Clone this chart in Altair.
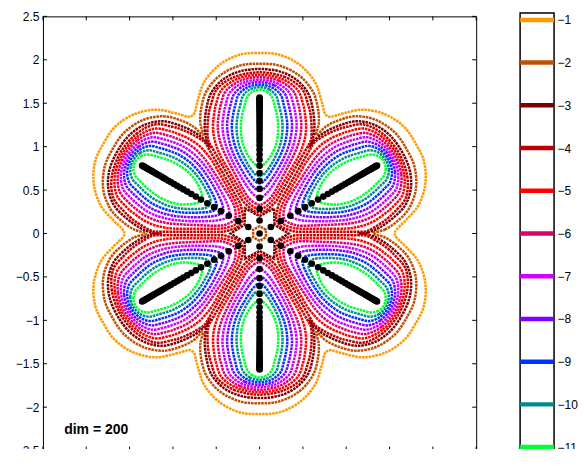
import math
import altair as alt
import pandas as pd

# ---------------- values ----------------
levels = [-1, -2, -3, -4, -5, -6, -7, -8, -9, -10, -11]
level_colors = ["#ff9900", "#c05000", "#800000", "#c00000", "#ff0000",
                "#d9006c", "#cc00ff", "#7f00ff", "#0033ff", "#008c8c", "#00ff33"]

axis_ticks = [-2.5, -2, -1.5, -1, -0.5, 0, 0.5, 1, 1.5, 2, 2.5]

# directions of the six eigenvalue rays / petals (degrees)
petal_axes = [30, 90, 150, 210, 270, 330]

# outer contours (closed round all petals): angle off a petal axis (deg) and radius
c1_phi = [0, 6.4, 13.3, 19.9, 24.7, 28.3, 30]
c1_r = [2.078, 2.071, 1.998, 1.864, 1.699, 1.58, 1.564]
c2_phi = [0, 6.8, 14.2, 20.5, 24.9, 28.2, 30]
c2_r = [1.955, 1.946, 1.875, 1.749, 1.596, 1.447, 1.31]
c3_phi = [0, 7, 13.4, 19, 23.3, 27.1, 29.5, 30]
c3_r = [1.894, 1.881, 1.822, 1.713, 1.555, 1.39, 1.247, 1.14]

# small contours round the origin: star (level -3) and hexagon (level -2)
star_phi = [0, 30]
star_r = [0.20, 0.335]
hex_phi = [0]
hex_r = [0.085]

# petal contours: half of the upright petal, from its tip to its inner end (x >= 0)
p4_x = [0, 0.28, 0.485, 0.56, 0.588, 0.6, 0.595, 0.548, 0.483, 0.433, 0.333, 0.233, 0.19, 0.14, 0.07, 0]
p4_y = [1.856, 1.806, 1.671, 1.486, 1.37, 1.237, 1.085, 0.99, 0.876, 0.789, 0.616, 0.443, 0.37, 0.32, 0.262, 0.245]
p5_x = [0, 0.2515, 0.436, 0.503, 0.525, 0.537, 0.528, 0.495, 0.45, 0.352, 0.252, 0.182, 0.12, 0.06, 0]
p5_y = [1.828, 1.782, 1.657, 1.486, 1.37, 1.25, 1.12, 1.0, 0.892, 0.72, 0.547, 0.426, 0.35, 0.30, 0.285]
p6_x = [0, 0.2235, 0.387, 0.447, 0.47, 0.482, 0.47, 0.432, 0.378, 0.318, 0.257, 0.196, 0.135, 0.07, 0.02, 0]
p6_y = [1.80, 1.758, 1.643, 1.486, 1.37, 1.25, 1.12, 0.99, 0.87, 0.75, 0.635, 0.52, 0.42, 0.36, 0.333, 0.33]
p7_x = [0, 0.195, 0.338, 0.39, 0.415, 0.428, 0.415, 0.38, 0.33, 0.27, 0.2, 0.13, 0.06, 0.015, 0]
p7_y = [1.771, 1.733, 1.6285, 1.486, 1.37, 1.25, 1.12, 0.99, 0.87, 0.75, 0.63, 0.52, 0.44, 0.413, 0.41]
p8_x = [0, 0.167, 0.289, 0.334, 0.36, 0.375, 0.362, 0.33, 0.28, 0.22, 0.15, 0.08, 0.025, 0]
p8_y = [1.7425, 1.708, 1.614, 1.486, 1.37, 1.25, 1.12, 0.99, 0.87, 0.755, 0.64, 0.545, 0.497, 0.49]
p9_x = [0, 0.139, 0.241, 0.278, 0.305, 0.32, 0.31, 0.28, 0.23, 0.165, 0.095, 0.035, 0]
p9_y = [1.714, 1.683, 1.60, 1.486, 1.37, 1.25, 1.12, 1.0, 0.88, 0.765, 0.655, 0.59, 0.58]
p10_x = [0, 0.11, 0.191, 0.221, 0.25, 0.265, 0.258, 0.232, 0.185, 0.125, 0.06, 0.015, 0]
p10_y = [1.6855, 1.659, 1.586, 1.486, 1.37, 1.25, 1.12, 1.0, 0.89, 0.78, 0.69, 0.667, 0.665]
p11_x = [0, 0.083, 0.143, 0.17, 0.20, 0.215, 0.21, 0.185, 0.14, 0.08, 0.025, 0]
p11_y = [1.657, 1.634, 1.571, 1.486, 1.37, 1.25, 1.12, 1.01, 0.91, 0.825, 0.775, 0.77]

# eigenvalues: distance from the origin along each ray (plus one at the origin)
eig_r = [0.15, 0.285, 0.41, 0.515, 0.606, 0.696, 0.78, 0.85, 0.91, 0.965, 1.015,
         1.06, 1.10, 1.14, 1.18, 1.215, 1.25, 1.28, 1.31, 1.34, 1.365, 1.39, 1.415,
         1.435, 1.455, 1.475, 1.49, 1.505, 1.52, 1.535, 1.545, 1.555, 1.565]

dim_label = "dim = 200"

# ---------------- build tables ----------------
def polar(theta_deg, r):
    t = math.radians(theta_deg)
    return r * math.cos(t), r * math.sin(t)


rows = []


def add_curve(cid, level, pts):
    for i, (x, y) in enumerate(pts):
        rows.append({"cid": cid, "level": level, "order": i, "x": x, "y": y})


def flower(phi, r):
    pts = []
    for a in petal_axes:
        seq = [(a - p, rr) for p, rr in zip(reversed(phi), reversed(r))]
        seq += [(a + p, rr) for p, rr in zip(phi[1:-1], r[1:-1])]
        pts += [polar(t, rr) for t, rr in seq]
    return pts


def petal(px, py, a):
    xs_ = list(px) + [-v for v in reversed(px[1:-1])]
    ys_ = list(py) + list(reversed(py[1:-1]))
    b = math.radians(a - 90)
    return [(x * math.cos(b) - y * math.sin(b), x * math.sin(b) + y * math.cos(b))
            for x, y in zip(xs_, ys_)]


add_curve("o1", -1, flower(c1_phi, c1_r))
add_curve("o2", -2, flower(c2_phi, c2_r))
add_curve("o3", -3, flower(c3_phi, c3_r))

petal_sets = [(-4, p4_x, p4_y), (-5, p5_x, p5_y), (-6, p6_x, p6_y), (-7, p7_x, p7_y),
              (-8, p8_x, p8_y), (-9, p9_x, p9_y), (-10, p10_x, p10_y), (-11, p11_x, p11_y)]
for lev, px, py in petal_sets:
    for a in petal_axes:
        add_curve(f"p{lev}_{a}", lev, petal(px, py, a))

contours = pd.DataFrame(rows)

srows = []
for cid, lev, ph, rr in [("star", -3, star_phi, star_r), ("hex", -2, hex_phi, hex_r)]:
    i = 0
    for a in petal_axes:
        for p, r in zip(ph, rr):
            x, y = polar(a + p, r)
            srows.append({"cid": cid, "level": lev, "order": i, "x": x, "y": y})
            i += 1
center = pd.DataFrame(srows)

erows = [{"x": 0.0, "y": 0.0}]
for a in petal_axes:
    for r in eig_r:
        x, y = polar(a, r)
        erows.append({"x": x, "y": y})
eigs = pd.DataFrame(erows)

# ---------------- chart ----------------
W, H = 434, 435
FONT = "Liberation Sans"
xs = alt.Scale(domain=[-2.5, 2.5], nice=False, zero=False)
ys = alt.Scale(domain=[-2.5, 2.5], nice=False, zero=False)
cscale = alt.Scale(domain=levels, range=level_colors)

x_axis = alt.Axis(values=axis_ticks, format="~g", title=None, grid=False, ticks=False,
                  domain=False, labelPadding=1, labelFontSize=12, labelFont=FONT,
                  labelColor="black")
y_axis = alt.Axis(values=axis_ticks, format="~g", title=None, grid=False, ticks=False,
                  domain=False, labelPadding=4, labelFontSize=12, labelFont=FONT,
                  labelColor="black")

X = lambda f: alt.X(f, scale=xs, axis=x_axis)
Y = lambda f: alt.Y(f, scale=ys, axis=y_axis)

dash = [2.6, 0.8]
lines = alt.Chart(contours).mark_line(
    interpolate="cardinal-closed", strokeWidth=2.5, strokeDash=dash
).encode(
    x=X("x:Q"), y=Y("y:Q"),
    color=alt.Color("level:N", scale=cscale, legend=None),
    detail="cid:N",
    order="order:Q",
)

center_lines = alt.Chart(center).mark_line(
    interpolate="linear-closed", strokeWidth=2.5, strokeDash=dash
).encode(
    x=X("x:Q"), y=Y("y:Q"),
    color=alt.Color("level:N", scale=cscale, legend=None),
    detail="cid:N",
    order="order:Q",
)

dots = alt.Chart(eigs).mark_circle(color="black", size=44, opacity=1).encode(
    x=X("x:Q"), y=Y("y:Q"),
)

label = alt.Chart(pd.DataFrame({"x": [-2.255], "y": [-2.259], "t": [dim_label]})).mark_text(
    align="left", baseline="middle", fontSize=14, fontWeight="bold", font=FONT, color="black"
).encode(
    x=X("x:Q"), y=Y("y:Q"), text="t:N",
)

tick_df = pd.DataFrame({"t": axis_ticks})
tick_len = 4
t_top = alt.Chart(tick_df).mark_rule(color="black", strokeWidth=1).encode(
    x=X("t:Q"), y=alt.value(0), y2=alt.value(tick_len))
t_bot = alt.Chart(tick_df).mark_rule(color="black", strokeWidth=1).encode(
    x=X("t:Q"), y=alt.value(H), y2=alt.value(H - tick_len))
t_left = alt.Chart(tick_df).mark_rule(color="black", strokeWidth=1).encode(
    y=Y("t:Q"), x=alt.value(0), x2=alt.value(tick_len))
t_right = alt.Chart(tick_df).mark_rule(color="black", strokeWidth=1).encode(
    y=Y("t:Q"), x=alt.value(W), x2=alt.value(W - tick_len))

main = alt.layer(lines, center_lines, dots, label, t_top, t_bot, t_left, t_right).properties(
    width=W, height=H
)

cb_df = pd.DataFrame({"level": levels})
colorbar = alt.Chart(cb_df).mark_rule(strokeWidth=4.5).encode(
    y=alt.Y("level:Q", scale=alt.Scale(domain=[-11.164, -0.836], nice=False, zero=False),
            axis=alt.Axis(orient="right", values=levels, format="~g", title=None, grid=False,
                          ticks=False, domain=False, labelPadding=3, labelFontSize=12,
                          labelFont=FONT, labelColor="black")),
    x=alt.value(0),
    x2=alt.value(34),
    color=alt.Color("level:N", scale=cscale, legend=None),
).properties(width=34, height=442, view=alt.ViewBackground(stroke="black", strokeWidth=1.5))

chart = alt.hconcat(main, colorbar, spacing=44, bounds="flush", center=True).properties(
    padding={"left": 6, "right": -1, "top": 1.5, "bottom": -14.5}
).configure_view(stroke="black", strokeWidth=1)

chart.save("out.html", embed_options={"renderer": "svg", "actions": False})
